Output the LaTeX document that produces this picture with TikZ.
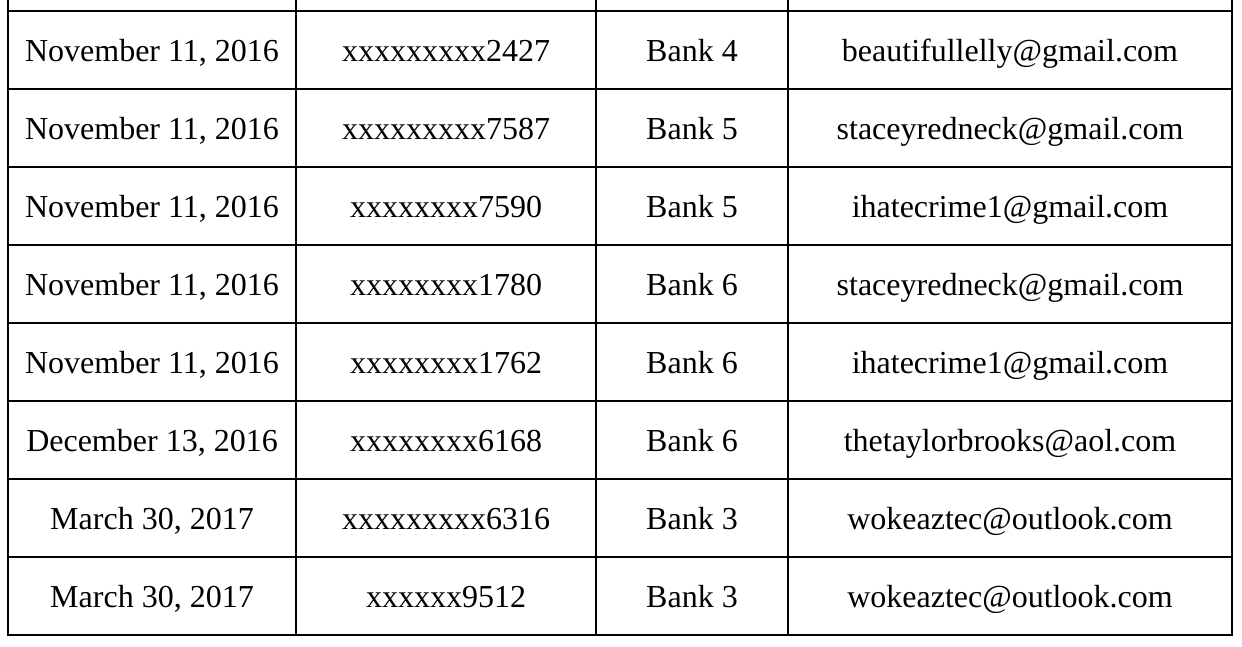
\documentclass[tikz,border=0pt]{standalone}
\usepackage{fontspec}
\setmainfont{Liberation Serif}

\tikzset{
    cell/.style={anchor=base, inner sep=0pt, font=\fontsize{32}{38}\selectfont},
    rule/.style={line width=2.2pt}
}

\begin{document}
\begin{tikzpicture}[x=1pt, y=-1pt]
        \useasboundingbox (0,0) rectangle (1242,646);

        \foreach \i/\d/\a/\b/\m in {
            1/{November 11, 2016}/xxxxxxxxx2427/Bank 4/beautifullelly@gmail.com,
            2/{November 11, 2016}/xxxxxxxxx7587/Bank 5/staceyredneck@gmail.com,
            3/{November 11, 2016}/xxxxxxxx7590/Bank 5/ihatecrime1@gmail.com,
            4/{November 11, 2016}/xxxxxxxx1780/Bank 6/staceyredneck@gmail.com,
            5/{November 11, 2016}/xxxxxxxx1762/Bank 6/ihatecrime1@gmail.com,
            6/{December 13, 2016}/xxxxxxxx6168/Bank 6/thetaylorbrooks@aol.com,
            7/{March 30, 2017}/xxxxxxxxx6316/Bank 3/wokeaztec@outlook.com,
            8/{March 30, 2017}/xxxxxx9512/Bank 3/wokeaztec@outlook.com} {
            \node[cell] (date\i) at (152, {11+78*(\i-1)+50}) {\d};
            \node[cell] (acct\i) at (446, {11+78*(\i-1)+50}) {\a};
            \node[cell] (bank\i) at (692, {11+78*(\i-1)+50}) {\b};
            \node[cell] (mail\i) at (1010, {11+78*(\i-1)+50}) {\m};
        }

        % grid
        \foreach \y in {11, 89, 167, 245, 323, 401, 479, 557, 635}
            \draw[rule] (7,\y) -- (1233,\y);
        \foreach \x in {8, 296, 596, 788, 1232}
            \draw[rule] (\x,-1) -- (\x,636);
    \end{tikzpicture}
\end{document}
